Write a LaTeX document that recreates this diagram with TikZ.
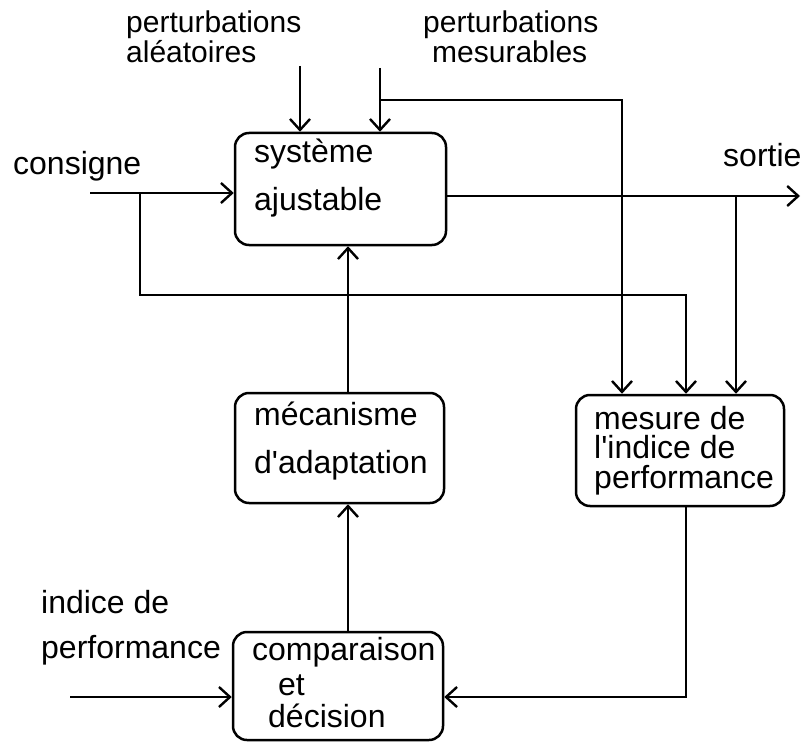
\documentclass[tikz,border=0pt]{standalone}
\usepackage{fontspec}
\setmainfont{Liberation Sans}
\usetikzlibrary{arrows.meta}
\begin{document}
\begin{tikzpicture}[x=1pt,y=-1pt,
  line width=2.4pt,
  block/.style={draw, rounded corners=14pt, line width=2.5pt, inner sep=0pt},
  lbl/.style={inner sep=0pt, anchor=base west, font=\fontsize{32}{38}\selectfont},
  tight/.style={lbl, align=left, font=\fontsize{32}{29.5}\selectfont},
  toplbl/.style={lbl, font=\fontsize{30}{36}\selectfont},
  arr/.style={-{Straight Barb[length=11pt,width=20pt,line width=2.4pt]}},
]
\useasboundingbox (0,0) rectangle (802,743);

% blocks
\node[block, minimum width=211pt, minimum height=112pt] (sys)  at (340.5,189) {};
\node[block, minimum width=209pt, minimum height=110pt] (meca) at (339.5,448) {};
\node[block, minimum width=208pt, minimum height=111pt] (mes)  at (680,450.5) {};
\node[block, minimum width=210pt, minimum height=108pt] (comp) at (338,686) {};

% texts inside the blocks
\node[lbl] (sys1) at (253,163) {système};
\node[lbl] (sys2) at (253,211) {ajustable};
\node[lbl] (meca1) at (253,425) {mécanisme};
\node[lbl] (meca2) at (253,473) {d\textquotesingle adaptation};
% multi-line node: its base anchor sits on the last line
\node[tight] (mestxt) at (593,488) {mesure de\\l\textquotesingle indice de\\performance};
\node[lbl] (comp1) at (251,660) {comparaison};
\node[lbl] (comp2) at (277,695) {et};
\node[lbl] (comp3) at (267,727) {décision};

% signal labels
\node[toplbl] (pa1) at (125,33) {perturbations};
\node[toplbl] (pa2) at (125,63) {aléatoires};
\node[toplbl] (pm1) at (422,33) {perturbations};
\node[toplbl] (pm2) at (431,63) {mesurables};
\node[lbl] (cons) at (12,175) {consigne};
\node[lbl] (sort) at (722,167) {sortie};
\node[lbl] (ip1) at (40,613) {indice de};
\node[lbl] (ip2) at (40,658) {performance};

% helper points
\coordinate (cin) at (90,193);
\coordinate (cbr) at (140,193);
\coordinate (cturn) at (686,295);
\coordinate (sout) at (800,196);
\coordinate (sbr) at (736,196);
\coordinate (pa) at (300,66);
\coordinate (pm) at (380,68);
\coordinate (pmbr) at (380,100);
\coordinate (pmturn) at (622,100);
\coordinate (vx) at (348,0);
\coordinate (mturn) at (686,697);
\coordinate (ip) at (70,697);

% set point and its branch to the measure block
\draw[arr] (cin) -- (cin -| sys.west);
\draw[arr] (cbr) |- (cturn) -- (cturn |- mes.north);

% output and its branch
\draw[arr] (sout -| sys.east) -- (sout);
\draw[arr] (sbr) -- (sbr |- mes.north);

% disturbances
\draw[arr] (pa) -- (pa |- sys.north);
\draw[arr] (pm) -- (pm |- sys.north);
\draw[arr] (pmbr) -- (pmturn) -- (pmturn |- mes.north);

% adaptation loop
\draw[arr] (vx |- meca.north) -- (vx |- sys.south);
\draw[arr] (vx |- comp.north) -- (vx |- meca.south);
\draw[arr] (mturn |- mes.south) -- (mturn) -- (mturn -| comp.east);
\draw[arr] (ip) -- (ip -| comp.west);
\end{tikzpicture}
\end{document}
